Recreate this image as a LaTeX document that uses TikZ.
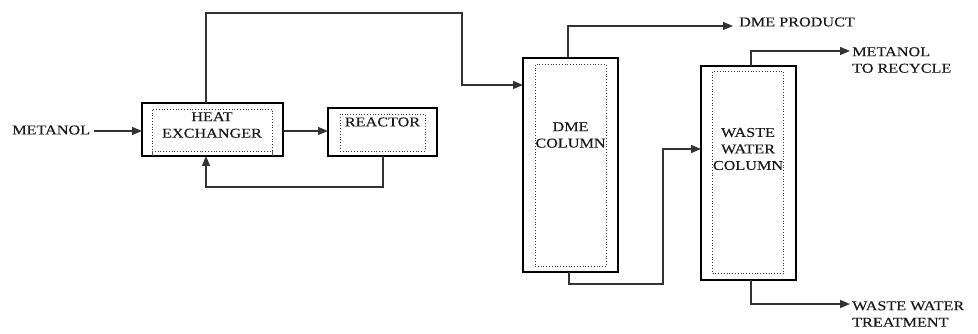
\documentclass[tikz,border=0pt]{standalone}
\usepackage{fontspec}
\setmainfont{Liberation Serif}[FakeStretch=1.2,FakeBold=0.2]
\usetikzlibrary{arrows.meta}
\tikzset{
  outerbox/.style={draw=black, line width=1.3pt, minimum width=#1, inner sep=0pt, outer sep=0pt},
  innerbox/.style={draw=black!80, line width=0.8pt, dotted, inner sep=0pt, outer sep=0pt},
  lbl/.style={font=\fontsize{13.5}{16.5}\selectfont, text=black!90, inner sep=0pt, align=center},
  flow/.style={draw=black!80, line width=1.2pt},
  arr/.style={flow, -{Triangle[length=10pt,width=8pt]}}
}
\begin{document}
\begin{tikzpicture}[x=1pt,y=-1pt]
\useasboundingbox (0,0) rectangle (978,334);
% heat exchanger
\node[outerbox=141, minimum height=53] (hx) at (212.5,129.5) {};
\node[innerbox, minimum width=120, minimum height=42] (hxi) at (212,130) {};
\draw[black!70, line width=0.7pt] (152,151) -- (152,156) (272,151) -- (272,156);
\node[lbl] (hxt) at (212,125) {HEAT\\EXCHANGER};
% reactor
\node[outerbox=109, minimum height=48] (re) at (382.5,132) {};
\node[innerbox, minimum width=85, minimum height=37] (rei) at (382.5,132.5) {};
\node[lbl] (ret) at (382.5,122) {REACTOR};
% DME column
\node[outerbox=95, minimum height=214] (dc) at (570.5,165) {};
\node[innerbox, minimum width=71, minimum height=202] (dci) at (570.5,165.5) {};
\node[lbl] (dct) at (570.5,135) {DME\\COLUMN};
% waste water column
\node[outerbox=95, minimum height=214] (wc) at (748.5,173) {};
\node[innerbox, minimum width=71, minimum height=202] (wci) at (748,172.5) {};
\node[lbl] (wct) at (748,149) {WASTE\\WATER\\COLUMN};
% labels
\node[lbl, anchor=west] (feed) at (12,130) {METANOL};
\node[lbl, anchor=west] (dmep) at (739,22) {DME PRODUCT};
\node[lbl, anchor=west, align=left] (rec) at (852,60) {METANOL\\TO RECYCLE};
\node[lbl, anchor=west, align=left] (wwt) at (852,314) {WASTE WATER\\TREATMENT};
% coordinates
\coordinate (hxtop) at (206,103);
\coordinate (hxbot) at (206,156);
\coordinate (retbot) at (383,156);
\coordinate (dctop) at (568,58);
\coordinate (dcbot) at (569,272);
\coordinate (wctop) at (751,66);
\coordinate (wcbot) at (751,280);
\coordinate (dmeend) at (733,26);
\coordinate (recend) at (850,51);
\coordinate (wwtend) at (850,304);
% connectors
\draw[arr] (feed.east |- 0,131) ++(4,0) -- (hx.west |- 0,131);
\draw[arr] (hx.east |- 0,131) -- (re.west |- 0,131);
\draw[arr] (retbot) -- (383,187) -- (206,187) -- (hxbot);
\draw[arr] (hxtop) -- (206,13) -- (462,13) -- (462,85) -- (dc.west |- 0,85);
\draw[arr] (dctop) -- (568,26) -- (dmeend);
\draw[arr] (dcbot) -- (569,284) -- (663,284) -- (663,149) -- (wc.west |- 0,149);
\draw[arr] (wctop) -- (751,51) -- (recend);
\draw[arr] (wcbot) -- (751,304) -- (wwtend);
\end{tikzpicture}
\end{document}
